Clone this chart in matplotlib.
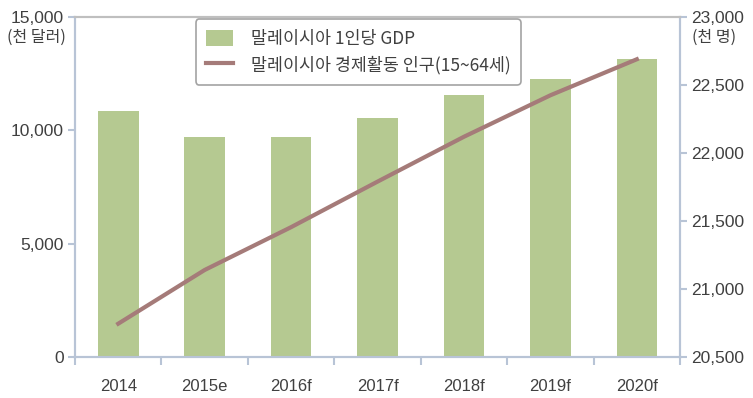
import matplotlib.pyplot as plt
from matplotlib.ticker import FuncFormatter
import numpy as np

plt.rcParams['font.family'] = ['Liberation Sans', 'Noto Sans CJK KR', 'DejaVu Sans']

years = ["2014", "2015e", "2016f", "2017f", "2018f", "2019f", "2020f"]
gdp_per_capita = [10850, 9710, 9710, 10540, 11560, 12270, 13150]
labour_force = [20745, 21140, 21455, 21790, 22120, 22425, 22690]

gdp_label = "말레이시아 1인당 GDP"
pop_label = "말레이시아 경제활동 인구(15~64세)"

BAR_GREEN = "#b5c991"
LINE_BROWN = "#a57b79"
AXIS_BLUE = "#b8c4d6"
TEXT_GREY = "#404040"

fig = plt.figure(figsize=(7.53, 3.98), dpi=100)
ax = fig.add_axes([0.0996, 0.103, 0.8035, 0.854])
ax2 = ax.twinx()

x = np.arange(len(years))
bars = ax.bar(x, gdp_per_capita, width=0.47, color=BAR_GREEN, zorder=2)
line, = ax2.plot(x, labour_force, color=LINE_BROWN, lw=3, zorder=3)

ax.set_xlim(-0.5, len(years) - 0.5)
ax.set_ylim(0, 15000)
ax2.set_ylim(20500, 23000)
ax.set_yticks([0, 5000, 10000, 15000])
ax2.set_yticks([20500, 21000, 21500, 22000, 22500, 23000])
fmt = FuncFormatter(lambda v, p: f"{int(v):,}")
ax.yaxis.set_major_formatter(fmt)
ax2.yaxis.set_major_formatter(fmt)

# x ticks sit between categories, labels in the middle
ax.set_xticks(np.arange(-0.5, len(years), 1.0))
ax.set_xticklabels([])
ax.set_xticks(x, minor=True)
ax.set_xticklabels(years, minor=True)
ax.tick_params(axis="x", which="major", length=6, color=AXIS_BLUE, width=1.5)
ax.tick_params(axis="x", which="minor", length=0, pad=16, labelsize=12, labelcolor=TEXT_GREY)
ax.tick_params(axis="y", length=5, color=AXIS_BLUE, width=1.5, labelsize=12.5, labelcolor=TEXT_GREY, pad=3)
ax2.tick_params(axis="y", length=5, color=AXIS_BLUE, width=1.5, labelsize=12.5, labelcolor=TEXT_GREY, pad=3)

for a in (ax, ax2):
    a.spines["left"].set_color(AXIS_BLUE)
    a.spines["right"].set_color(AXIS_BLUE)
    a.spines["bottom"].set_color(AXIS_BLUE)
    a.spines["top"].set_color("#bfbfbf")
    for s in a.spines.values():
        s.set_linewidth(1.5)

fig.text(0.048, 0.905, "(천 달러)", ha="center", va="center", fontsize=11.5,
         color=TEXT_GREY, family=['Noto Sans CJK KR', 'DejaVu Sans'])
fig.text(0.948, 0.905, "(천 명)", ha="center", va="center", fontsize=11.5,
         color=TEXT_GREY, family=['Noto Sans CJK KR', 'DejaVu Sans'])

leg = ax.legend([bars, line], [gdp_label, pop_label], loc="upper left",
                bbox_to_anchor=(0.2, 0.994), frameon=True, fancybox=True,
                edgecolor="#8c8c8c", handlelength=1.55, handleheight=1.1,
                handletextpad=1.0,
                prop={'family': ['Noto Sans CJK KR', 'DejaVu Sans'], 'size': 12.5},
                labelcolor=TEXT_GREY, borderpad=0.6, labelspacing=0.45,
                borderaxespad=0)
leg.get_frame().set_linewidth(1.2)
leg.set_zorder(5)

fig.savefig("out.png", dpi=100)
